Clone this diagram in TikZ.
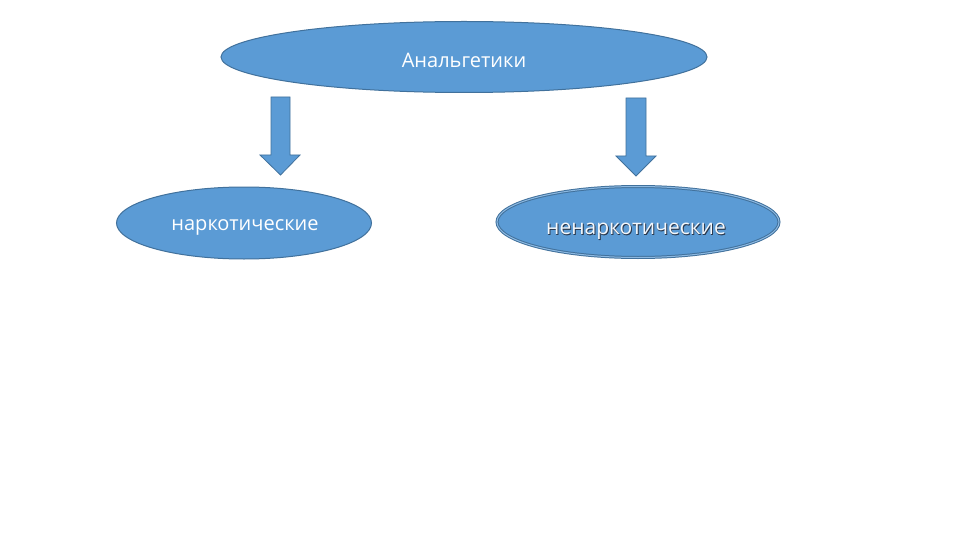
\documentclass[tikz,border=0pt]{standalone}
\usepackage{fontspec}
\setmainfont{Open Sans}
\usetikzlibrary{shapes.geometric}
\definecolor{ofill}{HTML}{5B9BD5}
\definecolor{oline}{HTML}{41719C}
\definecolor{shade}{HTML}{2A3A50}
\newcommand{\shadowtext}[1]{\rlap{\hspace{1pt}\raisebox{-1.4pt}{\textcolor{shade}{#1}}}\rlap{\hspace{0.5pt}\raisebox{-0.7pt}{\textcolor{shade}{#1}}}#1}
\begin{document}
\begin{tikzpicture}[x=1pt,y=-1pt,
  oval/.style={ellipse, fill=ofill, draw=oline, line width=1pt, inner sep=0pt},
  blockarrow/.style={fill=ofill, draw=oline, line width=0.8pt, line join=miter},
  lbl/.style={text=white, font=\fontsize{20}{24}\selectfont}]
\useasboundingbox (0,0) rectangle (960,540);
\fill[white] (0,0) rectangle (960,540);
\node[oval, minimum width=486pt, minimum height=71pt] (top) at (464,57) {};
\node[lbl] (toptext) at (464,60) {Анальгетики};
\node[oval, minimum width=255pt, minimum height=72pt] (left) at (244,223) {};
\node[lbl] (lefttext) at (245,227) {наркотические};
\node[oval, minimum width=282pt, minimum height=71pt, double=ofill!70!white, double distance=1pt] (right) at (638,222) {};
\node[text=white!93!ofill, font=\fontsize{21}{25}\selectfont] (righttext) at (636,232) {\shadowtext{ненаркотические}};
\draw[blockarrow] (271,97) -- (290,97) -- (290,155) -- (300,155) -- (280.5,175) -- (260,155) -- (271,155) -- cycle;
\draw[blockarrow] (626,98) -- (646,98) -- (646,156) -- (656,156) -- (636,176) -- (616,156) -- (626,156) -- cycle;
\end{tikzpicture}
\end{document}
